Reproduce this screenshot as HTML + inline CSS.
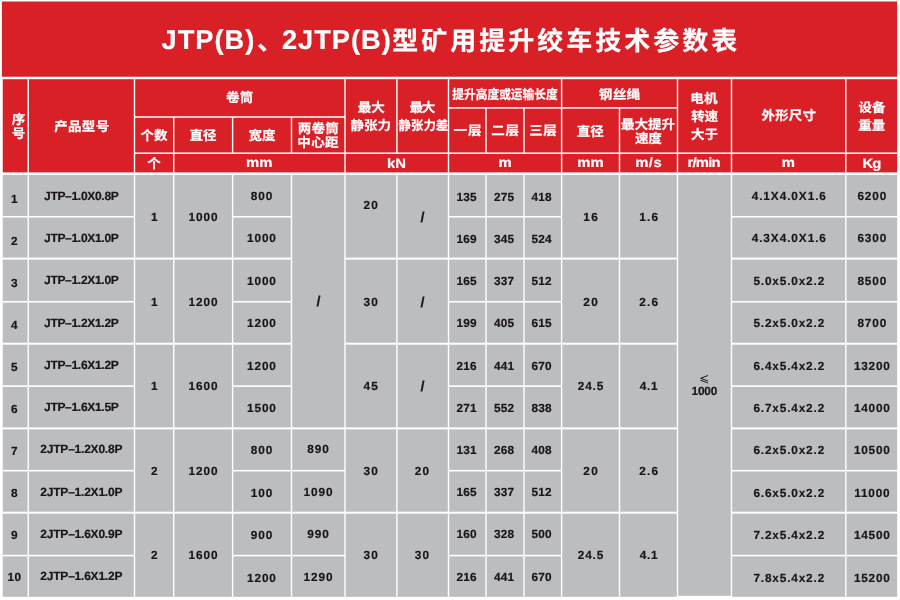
<!DOCTYPE html>
<html lang="zh-CN">
<head>
<meta charset="utf-8">
<title>JTP(B)、2JTP(B)型矿用提升绞车技术参数表</title>
<style>
html,body{margin:0;padding:0;background:#fff;}
body{width:900px;height:600px;overflow:hidden;}
svg{display:block;will-change:transform;}
text{font-family:"Liberation Sans","Noto Sans CJK SC",sans-serif;font-weight:700;text-anchor:middle;text-rendering:geometricPrecision;}
text.w{fill:#fff;stroke:#fff;stroke-width:0.2px;stroke-linejoin:round;}
text.s{text-anchor:start;}
text.lt{fill:#1a1617;font-family:"DejaVu Sans",sans-serif;font-weight:400;}
text.k{fill:#1a1617;stroke:#1a1617;stroke-width:0.2px;stroke-linejoin:round;}
</style>
</head>
<body>
<svg width="900" height="600" viewBox="0 0 900 600">
<rect x="0" y="0" width="900" height="600" fill="#fff"/>
<g shape-rendering="auto">
<rect x="1.90" y="1.50" width="895.25" height="75.25" fill="#d92027"/>
<rect x="2.75" y="79.20" width="894.40" height="93.20" fill="#d92027"/>
<rect x="2.75" y="175.00" width="894.40" height="421.80" fill="#bcbdc0"/>
<rect x="677.50" y="595.80" width="54.00" height="2.00" fill="#ffffff"/>
<rect x="27.55" y="79.20" width="1.40" height="93.20" fill="#ffffff"/>
<rect x="133.80" y="79.20" width="1.40" height="93.20" fill="#ffffff"/>
<rect x="173.00" y="117.00" width="1.40" height="55.40" fill="#ffffff"/>
<rect x="231.90" y="117.00" width="1.40" height="36.00" fill="#ffffff"/>
<rect x="290.80" y="117.00" width="1.40" height="36.00" fill="#ffffff"/>
<rect x="344.30" y="79.20" width="1.40" height="93.20" fill="#ffffff"/>
<rect x="396.20" y="79.20" width="1.40" height="73.80" fill="#ffffff"/>
<rect x="447.80" y="79.20" width="1.40" height="93.20" fill="#ffffff"/>
<rect x="485.30" y="107.50" width="1.40" height="45.50" fill="#ffffff"/>
<rect x="523.30" y="107.50" width="1.40" height="45.50" fill="#ffffff"/>
<rect x="560.90" y="79.20" width="1.40" height="93.20" fill="#ffffff"/>
<rect x="618.80" y="107.50" width="1.40" height="64.90" fill="#ffffff"/>
<rect x="676.80" y="79.20" width="1.40" height="93.20" fill="#ffffff"/>
<rect x="730.80" y="79.20" width="1.40" height="93.20" fill="#ffffff"/>
<rect x="845.10" y="79.20" width="1.40" height="93.20" fill="#ffffff"/>
<rect x="134.50" y="116.25" width="210.50" height="1.50" fill="#ffffff"/>
<rect x="448.50" y="107.15" width="229.00" height="1.50" fill="#ffffff"/>
<rect x="134.50" y="152.45" width="762.65" height="1.50" fill="#ffffff"/>
<rect x="27.55" y="175.00" width="1.40" height="421.80" fill="#ffffff"/>
<rect x="133.80" y="175.00" width="1.40" height="421.80" fill="#ffffff"/>
<rect x="173.00" y="175.00" width="1.40" height="421.80" fill="#ffffff"/>
<rect x="231.90" y="175.00" width="1.40" height="421.80" fill="#ffffff"/>
<rect x="290.80" y="175.00" width="1.40" height="421.80" fill="#ffffff"/>
<rect x="344.30" y="175.00" width="1.40" height="421.80" fill="#ffffff"/>
<rect x="396.20" y="175.00" width="1.40" height="421.80" fill="#ffffff"/>
<rect x="447.80" y="175.00" width="1.40" height="421.80" fill="#ffffff"/>
<rect x="485.30" y="175.00" width="1.40" height="421.80" fill="#ffffff"/>
<rect x="523.30" y="175.00" width="1.40" height="421.80" fill="#ffffff"/>
<rect x="560.90" y="175.00" width="1.40" height="421.80" fill="#ffffff"/>
<rect x="618.80" y="175.00" width="1.40" height="421.80" fill="#ffffff"/>
<rect x="676.80" y="175.00" width="1.40" height="421.80" fill="#ffffff"/>
<rect x="730.80" y="175.00" width="1.40" height="421.80" fill="#ffffff"/>
<rect x="845.10" y="175.00" width="1.40" height="421.80" fill="#ffffff"/>
<rect x="2.75" y="215.95" width="131.75" height="1.60" fill="#ffffff"/>
<rect x="232.60" y="215.95" width="58.90" height="1.60" fill="#ffffff"/>
<rect x="448.50" y="215.95" width="113.10" height="1.60" fill="#ffffff"/>
<rect x="731.50" y="215.95" width="165.65" height="1.60" fill="#ffffff"/>
<rect x="2.75" y="257.60" width="288.75" height="2.00" fill="#ffffff"/>
<rect x="345.00" y="257.60" width="332.50" height="2.00" fill="#ffffff"/>
<rect x="731.50" y="257.60" width="165.65" height="2.00" fill="#ffffff"/>
<rect x="2.75" y="300.95" width="131.75" height="1.60" fill="#ffffff"/>
<rect x="232.60" y="300.95" width="58.90" height="1.60" fill="#ffffff"/>
<rect x="448.50" y="300.95" width="113.10" height="1.60" fill="#ffffff"/>
<rect x="731.50" y="300.95" width="165.65" height="1.60" fill="#ffffff"/>
<rect x="2.75" y="342.70" width="288.75" height="2.00" fill="#ffffff"/>
<rect x="345.00" y="342.70" width="332.50" height="2.00" fill="#ffffff"/>
<rect x="731.50" y="342.70" width="165.65" height="2.00" fill="#ffffff"/>
<rect x="2.75" y="385.30" width="131.75" height="1.60" fill="#ffffff"/>
<rect x="232.60" y="385.30" width="58.90" height="1.60" fill="#ffffff"/>
<rect x="448.50" y="385.30" width="113.10" height="1.60" fill="#ffffff"/>
<rect x="731.50" y="385.30" width="165.65" height="1.60" fill="#ffffff"/>
<rect x="2.75" y="427.40" width="674.75" height="2.00" fill="#ffffff"/>
<rect x="731.50" y="427.40" width="165.65" height="2.00" fill="#ffffff"/>
<rect x="2.75" y="469.90" width="131.75" height="1.60" fill="#ffffff"/>
<rect x="232.60" y="469.90" width="58.90" height="1.60" fill="#ffffff"/>
<rect x="448.50" y="469.90" width="113.10" height="1.60" fill="#ffffff"/>
<rect x="731.50" y="469.90" width="165.65" height="1.60" fill="#ffffff"/>
<rect x="291.50" y="469.90" width="53.50" height="1.60" fill="#ffffff"/>
<rect x="2.75" y="511.70" width="674.75" height="2.00" fill="#ffffff"/>
<rect x="731.50" y="511.70" width="165.65" height="2.00" fill="#ffffff"/>
<rect x="2.75" y="554.80" width="131.75" height="1.60" fill="#ffffff"/>
<rect x="232.60" y="554.80" width="58.90" height="1.60" fill="#ffffff"/>
<rect x="448.50" y="554.80" width="113.10" height="1.60" fill="#ffffff"/>
<rect x="731.50" y="554.80" width="165.65" height="1.60" fill="#ffffff"/>
<rect x="291.50" y="554.80" width="53.50" height="1.60" fill="#ffffff"/>
</g>
<g>
<text class="w s" y="48.7" font-size="27.2"><tspan x="161.6" letter-spacing="1.0">JTP(B)</tspan><tspan x="257.0" y="49.7" font-size="26.0">、</tspan><tspan x="282.0" y="48.7" letter-spacing="1.0">2JTP(B)</tspan><tspan x="392.2" y="49.7" font-size="26.0" letter-spacing="3.0">型矿用提升绞车技术参数表</tspan></text>
<text transform="translate(18.50 123.90) scale(1.04 1)" font-size="13.0" class="w">序</text>
<text transform="translate(18.50 138.30) scale(1.04 1)" font-size="13.0" class="w">号</text>
<text transform="translate(81.85 130.70) scale(1.04 1)" font-size="13.0" class="w" letter-spacing="0.29">产品型号</text>
<text transform="translate(239.65 102.10) scale(1.04 1)" font-size="13.0" class="w" letter-spacing="0.10">卷筒</text>
<text transform="translate(154.10 140.00) scale(1.04 1)" font-size="13.0" class="w" letter-spacing="0.19">个数</text>
<text transform="translate(203.10 140.00) scale(1.04 1)" font-size="13.0" class="w" letter-spacing="0.19">直径</text>
<text transform="translate(262.10 140.00) scale(1.04 1)" font-size="13.0" class="w" letter-spacing="0.19">宽度</text>
<text transform="translate(318.30 132.80) scale(1.04 1)" font-size="13.0" class="w" letter-spacing="0.19">两卷筒</text>
<text transform="translate(318.05 147.00) scale(1.04 1)" font-size="13.0" class="w" letter-spacing="0.29">中心距</text>
<text transform="translate(371.30 112.30) scale(1.04 1)" font-size="13.0" class="w">最大</text>
<text transform="translate(370.80 129.50) scale(1.04 1)" font-size="13.0" class="w">静张力</text>
<text transform="translate(421.70 112.30) scale(1.04 1)" font-size="13.0" class="w" letter-spacing="-1.15">最大</text>
<text transform="translate(423.40 129.50) scale(1.04 1)" font-size="13.0" class="w" textLength="47.69" lengthAdjust="spacingAndGlyphs">静张力差</text>
<text transform="translate(505.00 98.80) scale(1.04 1)" font-size="13.0" class="w" textLength="101.35" lengthAdjust="spacingAndGlyphs">提升高度或运输长度</text>
<text transform="translate(468.00 135.20) scale(1.04 1)" font-size="13.0" class="w" letter-spacing="0.96">一层</text>
<text transform="translate(505.40 135.20) scale(1.04 1)" font-size="13.0" class="w" letter-spacing="0.58">二层</text>
<text transform="translate(543.35 134.60) scale(1.04 1)" font-size="13.0" class="w" letter-spacing="0.67">三层</text>
<text transform="translate(619.55 99.10) scale(1.04 1)" font-size="13.0" class="w" letter-spacing="0.29">钢丝绳</text>
<text transform="translate(590.25 135.70) scale(1.04 1)" font-size="13.0" class="w" letter-spacing="-0.10">直径</text>
<text transform="translate(648.10 128.60) scale(1.04 1)" font-size="13.0" class="w">最大提升</text>
<text transform="translate(648.15 143.20) scale(1.04 1)" font-size="13.0" class="w" letter-spacing="-0.29">速度</text>
<text transform="translate(703.95 102.80) scale(1.04 1)" font-size="13.0" class="w" letter-spacing="0.10">电机</text>
<text transform="translate(704.55 121.30) scale(1.04 1)" font-size="13.0" class="w" letter-spacing="-0.29">转速</text>
<text transform="translate(704.40 138.90) scale(1.04 1)" font-size="13.0" class="w" letter-spacing="-0.19">大于</text>
<text transform="translate(788.85 120.30) scale(1.04 1)" font-size="13.0" class="w" letter-spacing="0.10">外形尺寸</text>
<text transform="translate(871.90 112.10) scale(1.04 1)" font-size="13.0" class="w">设备</text>
<text transform="translate(871.80 130.40) scale(1.04 1)" font-size="13.0" class="w">重量</text>
<text transform="translate(154.00 167.70) scale(1.04 1)" font-size="13.0" class="w">个</text>
<text transform="translate(259.30 167.00) scale(1.09 1)" font-size="13.6" class="w">mm</text>
<text transform="translate(396.50 168.00) scale(1.09 1)" font-size="13.6" class="w">kN</text>
<text transform="translate(505.00 167.00) scale(1.09 1)" font-size="13.6" class="w">m</text>
<text transform="translate(590.40 167.00) scale(1.09 1)" font-size="13.6" class="w">mm</text>
<text transform="translate(648.65 167.00) scale(1.09 1)" font-size="13.6" class="w" letter-spacing="0.46">m/s</text>
<text transform="translate(703.62 167.00) scale(1.09 1)" font-size="13.6" class="w" letter-spacing="-0.69">r/min</text>
<text transform="translate(788.40 167.00) scale(1.09 1)" font-size="13.6" class="w">m</text>
<text transform="translate(871.50 167.60) scale(1.09 1)" font-size="13.6" class="w" letter-spacing="-0.73">Kg</text>
<text x="14.45" y="202.83" font-size="11.8" class="k" letter-spacing="0.3">1</text>
<text x="81.25" y="199.80" font-size="12" class="k" letter-spacing="-0.3">JTP–1.0X0.8P</text>
<text x="262.00" y="199.83" font-size="11.8" class="k" letter-spacing="1.0">800</text>
<text x="466.57" y="200.73" font-size="11.8" class="k" letter-spacing="0.15">135</text>
<text x="504.07" y="200.73" font-size="11.8" class="k" letter-spacing="0.15">275</text>
<text x="541.58" y="200.73" font-size="11.8" class="k" letter-spacing="0.15">418</text>
<text x="789.26" y="199.83" font-size="11.8" class="k" letter-spacing="0.93">4.1X4.0X1.6</text>
<text x="872.36" y="199.83" font-size="11.8" class="k" letter-spacing="0.92">6200</text>
<text x="14.45" y="244.80" font-size="11.8" class="k" letter-spacing="0.3">2</text>
<text x="81.25" y="242.08" font-size="12" class="k" letter-spacing="-0.3">JTP–1.0X1.0P</text>
<text x="261.93" y="242.26" font-size="11.8" class="k" letter-spacing="0.85">1000</text>
<text x="466.57" y="242.95" font-size="11.8" class="k" letter-spacing="0.15">169</text>
<text x="504.07" y="242.95" font-size="11.8" class="k" letter-spacing="0.15">345</text>
<text x="541.58" y="242.95" font-size="11.8" class="k" letter-spacing="0.15">524</text>
<text x="789.26" y="242.26" font-size="11.8" class="k" letter-spacing="0.93">4.3X4.0X1.6</text>
<text x="872.36" y="242.26" font-size="11.8" class="k" letter-spacing="0.92">6300</text>
<text x="14.45" y="286.77" font-size="11.8" class="k" letter-spacing="0.3">3</text>
<text x="81.25" y="284.36" font-size="12" class="k" letter-spacing="-0.3">JTP–1.2X1.0P</text>
<text x="261.93" y="284.69" font-size="11.8" class="k" letter-spacing="0.85">1000</text>
<text x="466.57" y="285.17" font-size="11.8" class="k" letter-spacing="0.15">165</text>
<text x="504.07" y="285.17" font-size="11.8" class="k" letter-spacing="0.15">337</text>
<text x="541.58" y="285.17" font-size="11.8" class="k" letter-spacing="0.15">512</text>
<text x="789.22" y="284.69" font-size="11.8" class="k" letter-spacing="0.85">5.0x5.0x2.2</text>
<text x="872.36" y="284.69" font-size="11.8" class="k" letter-spacing="0.92">8500</text>
<text x="14.45" y="328.74" font-size="11.8" class="k" letter-spacing="0.3">4</text>
<text x="81.25" y="326.64" font-size="12" class="k" letter-spacing="-0.3">JTP–1.2X1.2P</text>
<text x="261.93" y="327.12" font-size="11.8" class="k" letter-spacing="0.85">1200</text>
<text x="466.57" y="327.39" font-size="11.8" class="k" letter-spacing="0.15">199</text>
<text x="504.07" y="327.39" font-size="11.8" class="k" letter-spacing="0.15">405</text>
<text x="541.58" y="327.39" font-size="11.8" class="k" letter-spacing="0.15">615</text>
<text x="789.22" y="327.12" font-size="11.8" class="k" letter-spacing="0.85">5.2x5.0x2.2</text>
<text x="872.36" y="327.12" font-size="11.8" class="k" letter-spacing="0.92">8700</text>
<text x="14.45" y="370.71" font-size="11.8" class="k" letter-spacing="0.3">5</text>
<text x="81.25" y="368.92" font-size="12" class="k" letter-spacing="-0.3">JTP–1.6X1.2P</text>
<text x="261.93" y="369.55" font-size="11.8" class="k" letter-spacing="0.85">1200</text>
<text x="466.57" y="369.61" font-size="11.8" class="k" letter-spacing="0.15">216</text>
<text x="504.07" y="369.61" font-size="11.8" class="k" letter-spacing="0.15">441</text>
<text x="541.58" y="369.61" font-size="11.8" class="k" letter-spacing="0.15">670</text>
<text x="789.22" y="369.55" font-size="11.8" class="k" letter-spacing="0.85">6.4x5.4x2.2</text>
<text x="872.30" y="369.55" font-size="11.8" class="k" letter-spacing="0.8">13200</text>
<text x="14.45" y="412.68" font-size="11.8" class="k" letter-spacing="0.3">6</text>
<text x="81.25" y="411.20" font-size="12" class="k" letter-spacing="-0.3">JTP–1.6X1.5P</text>
<text x="261.93" y="411.98" font-size="11.8" class="k" letter-spacing="0.85">1500</text>
<text x="466.57" y="411.83" font-size="11.8" class="k" letter-spacing="0.15">271</text>
<text x="504.07" y="411.83" font-size="11.8" class="k" letter-spacing="0.15">552</text>
<text x="541.58" y="411.83" font-size="11.8" class="k" letter-spacing="0.15">838</text>
<text x="789.22" y="411.98" font-size="11.8" class="k" letter-spacing="0.85">6.7x5.4x2.2</text>
<text x="872.30" y="411.98" font-size="11.8" class="k" letter-spacing="0.8">14000</text>
<text x="14.45" y="454.65" font-size="11.8" class="k" letter-spacing="0.3">7</text>
<text x="81.29" y="453.48" font-size="12" class="k" letter-spacing="-0.22">2JTP–1.2X0.8P</text>
<text x="262.00" y="454.41" font-size="11.8" class="k" letter-spacing="1.0">800</text>
<text x="466.57" y="454.05" font-size="11.8" class="k" letter-spacing="0.15">131</text>
<text x="504.07" y="454.05" font-size="11.8" class="k" letter-spacing="0.15">268</text>
<text x="541.58" y="454.05" font-size="11.8" class="k" letter-spacing="0.15">408</text>
<text x="789.22" y="454.41" font-size="11.8" class="k" letter-spacing="0.85">6.2x5.0x2.2</text>
<text x="872.30" y="454.41" font-size="11.8" class="k" letter-spacing="0.8">10500</text>
<text x="14.45" y="496.62" font-size="11.8" class="k" letter-spacing="0.3">8</text>
<text x="81.29" y="495.76" font-size="12" class="k" letter-spacing="-0.22">2JTP–1.2X1.0P</text>
<text x="262.00" y="496.84" font-size="11.8" class="k" letter-spacing="1.0">100</text>
<text x="466.57" y="496.27" font-size="11.8" class="k" letter-spacing="0.15">165</text>
<text x="504.07" y="496.27" font-size="11.8" class="k" letter-spacing="0.15">337</text>
<text x="541.58" y="496.27" font-size="11.8" class="k" letter-spacing="0.15">512</text>
<text x="789.22" y="496.84" font-size="11.8" class="k" letter-spacing="0.85">6.6x5.0x2.2</text>
<text x="872.30" y="496.84" font-size="11.8" class="k" letter-spacing="0.8">11000</text>
<text x="14.45" y="538.59" font-size="11.8" class="k" letter-spacing="0.3">9</text>
<text x="81.29" y="538.04" font-size="12" class="k" letter-spacing="-0.22">2JTP–1.6X0.9P</text>
<text x="262.00" y="539.27" font-size="11.8" class="k" letter-spacing="1.0">900</text>
<text x="466.57" y="538.49" font-size="11.8" class="k" letter-spacing="0.15">160</text>
<text x="504.07" y="538.49" font-size="11.8" class="k" letter-spacing="0.15">328</text>
<text x="541.58" y="538.49" font-size="11.8" class="k" letter-spacing="0.15">500</text>
<text x="789.22" y="539.27" font-size="11.8" class="k" letter-spacing="0.85">7.2x5.4x2.2</text>
<text x="872.30" y="539.27" font-size="11.8" class="k" letter-spacing="0.8">14500</text>
<text x="14.45" y="580.56" font-size="11.8" class="k" letter-spacing="0.3">10</text>
<text x="81.29" y="580.32" font-size="12" class="k" letter-spacing="-0.22">2JTP–1.6X1.2P</text>
<text x="261.93" y="581.70" font-size="11.8" class="k" letter-spacing="0.85">1200</text>
<text x="466.57" y="580.71" font-size="11.8" class="k" letter-spacing="0.15">216</text>
<text x="504.07" y="580.71" font-size="11.8" class="k" letter-spacing="0.15">441</text>
<text x="541.58" y="580.71" font-size="11.8" class="k" letter-spacing="0.15">670</text>
<text x="789.22" y="581.70" font-size="11.8" class="k" letter-spacing="0.85">7.8x5.4x2.2</text>
<text x="872.30" y="581.70" font-size="11.8" class="k" letter-spacing="0.8">15200</text>
<text x="318.45" y="453.03" font-size="11.8" class="k" letter-spacing="0.9">890</text>
<text x="318.45" y="495.53" font-size="11.8" class="k" letter-spacing="0.9">1090</text>
<text x="318.45" y="538.03" font-size="11.8" class="k" letter-spacing="0.9">990</text>
<text x="318.45" y="580.53" font-size="11.8" class="k" letter-spacing="0.9">1290</text>
<text x="318.95" y="306.18" font-size="14.5" class="k" letter-spacing="0.7">/</text>
<text x="154.55" y="220.53" font-size="11.8" class="k" letter-spacing="0.7">1</text>
<text x="203.45" y="220.53" font-size="11.8" class="k" letter-spacing="0.9">1000</text>
<text x="371.20" y="208.63" font-size="11.8" class="k" letter-spacing="1.2">20</text>
<text x="422.40" y="221.57" font-size="14.5" class="k" letter-spacing="0">/</text>
<text x="591.15" y="220.53" font-size="11.8" class="k" letter-spacing="1.3">16</text>
<text x="649.23" y="220.53" font-size="11.8" class="k" letter-spacing="1.25">1.6</text>
<text x="154.55" y="305.53" font-size="11.8" class="k" letter-spacing="0.7">1</text>
<text x="203.45" y="305.53" font-size="11.8" class="k" letter-spacing="0.9">1200</text>
<text x="371.20" y="305.53" font-size="11.8" class="k" letter-spacing="1.2">30</text>
<text x="422.40" y="306.57" font-size="14.5" class="k" letter-spacing="0">/</text>
<text x="591.15" y="305.53" font-size="11.8" class="k" letter-spacing="1.3">20</text>
<text x="649.23" y="305.53" font-size="11.8" class="k" letter-spacing="1.25">2.6</text>
<text x="154.55" y="390.03" font-size="11.8" class="k" letter-spacing="0.7">1</text>
<text x="203.45" y="390.03" font-size="11.8" class="k" letter-spacing="0.9">1600</text>
<text x="371.20" y="390.03" font-size="11.8" class="k" letter-spacing="1.2">45</text>
<text x="422.40" y="391.07" font-size="14.5" class="k" letter-spacing="0">/</text>
<text x="590.92" y="390.03" font-size="11.8" class="k" letter-spacing="0.85">24.5</text>
<text x="648.95" y="390.03" font-size="11.8" class="k" letter-spacing="0.7">4.1</text>
<text x="154.55" y="475.03" font-size="11.8" class="k" letter-spacing="0.7">2</text>
<text x="203.45" y="475.03" font-size="11.8" class="k" letter-spacing="0.9">1200</text>
<text x="371.20" y="475.03" font-size="11.8" class="k" letter-spacing="1.2">30</text>
<text x="422.60" y="475.03" font-size="11.8" class="k" letter-spacing="1.2">20</text>
<text x="591.15" y="475.03" font-size="11.8" class="k" letter-spacing="1.3">20</text>
<text x="649.23" y="475.03" font-size="11.8" class="k" letter-spacing="1.25">2.6</text>
<text x="154.55" y="559.33" font-size="11.8" class="k" letter-spacing="0.7">2</text>
<text x="203.45" y="559.33" font-size="11.8" class="k" letter-spacing="0.9">1600</text>
<text x="371.20" y="559.33" font-size="11.8" class="k" letter-spacing="1.2">30</text>
<text x="422.60" y="559.33" font-size="11.8" class="k" letter-spacing="1.2">30</text>
<text x="590.92" y="559.33" font-size="11.8" class="k" letter-spacing="0.85">24.5</text>
<text x="648.95" y="559.33" font-size="11.8" class="k" letter-spacing="0.7">4.1</text>
<text x="704.35" y="395.33" font-size="11.8" class="k" letter-spacing="-0.1">1000</text>
<text x="704.4" y="381.7" font-size="12" class="lt">⩽</text>
</g>
</svg>
</body>
</html>
